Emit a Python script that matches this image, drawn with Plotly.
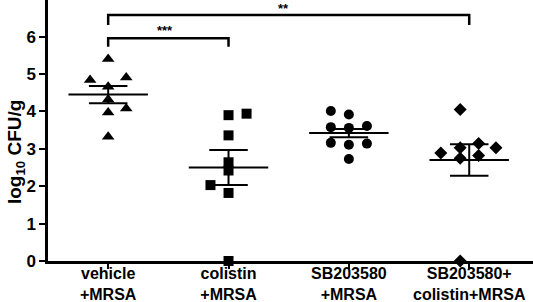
import plotly.graph_objects as go

categories = ["vehicle<br>+MRSA", "colistin<br>+MRSA", "SB203580<br>+MRSA", "SB203580+<br>colistin+MRSA"]

vehicle = [5.40, 4.84, 4.91, 4.66, 4.32, 4.08, 3.97, 3.32]
colistin = [3.90, 3.94, 3.36, 2.64, 2.42, 2.03, 1.82, 0.0]
sb203580 = [4.01, 3.92, 3.58, 3.56, 3.61, 3.16, 3.11, 3.14, 2.73]
combo = [4.05, 2.89, 3.03, 3.14, 3.03, 2.75, 2.82, 0.0]

# horizontal scatter of the points within each group (category units)
vehicle_dx = [0, -0.15, 0.15, 0, 0, 0.15, 0, 0]
colistin_dx = [0, 0.15, 0, 0, 0, -0.15, 0, 0]
sb203580_dx = [-0.15, 0, -0.15, 0, 0.15, -0.15, 0, 0.15, 0]
combo_dx = [-0.075, -0.236, -0.075, 0.078, 0.222, -0.075, 0.078, -0.075]

means = [4.45, 2.50, 3.42, 2.70]
sems = [0.23, 0.47, 0.11, 0.42]

symbols = ["triangle-up", "square", "circle", "diamond"]
groups = [vehicle, colistin, sb203580, combo]
offsets = [vehicle_dx, colistin_dx, sb203580_dx, combo_dx]
sizes = [11, 10, 10, 10]

fig = go.Figure()

MEAN_HW = 0.33
CAP_HW = 0.16
for i in range(4):
    fig.add_trace(go.Scatter(x=[i - MEAN_HW, i + MEAN_HW], y=[means[i], means[i]], mode="lines",
                             line=dict(color="black", width=2), showlegend=False, hoverinfo="skip"))
    lo, hi = means[i] - sems[i], means[i] + sems[i]
    fig.add_trace(go.Scatter(
        x=[i, i, None, i - CAP_HW, i + CAP_HW, None, i - CAP_HW, i + CAP_HW],
        y=[lo, hi, None, hi, hi, None, lo, lo], mode="lines",
        line=dict(color="black", width=2), showlegend=False, hoverinfo="skip"))
    fig.add_trace(go.Scatter(
        x=[i + d for d in offsets[i]], y=groups[i], mode="markers",
        marker=dict(symbol=symbols[i], size=sizes[i], color="black"),
        cliponaxis=False, showlegend=False))

brackets = [(0, 1, 5.96, 5.73, "***", -3, 8), (0, 3, 6.58, 6.31, "**", -5, 6)]
for a, b, top, leg, label, xs, ys in brackets:
    fig.add_trace(go.Scatter(x=[a, a, b, b], y=[leg, top, top, leg], mode="lines",
                             line=dict(color="black", width=2.5), cliponaxis=False,
                             showlegend=False, hoverinfo="skip"))
    fig.add_annotation(x=(a + b) / 2, y=top, text=label, showarrow=False,
                       yanchor="middle", yshift=ys, xshift=xs,
                       font=dict(size=13, color="black", weight="bold"))

fig.add_annotation(xref="paper", yref="paper", x=-0.066, y=0.421,
                   text="log<sub>10</sub> CFU/g", textangle=-90, showarrow=False,
                   xanchor="center", yanchor="middle",
                   font=dict(size=19, color="black", weight="bold"))

fig.update_layout(
    width=533, height=302,
    margin=dict(l=48, r=0, t=0, b=41, autoexpand=False),
    paper_bgcolor="white", plot_bgcolor="white",
    font=dict(family="Liberation Sans, Arial, sans-serif", color="black"),
    xaxis=dict(range=[-0.5, 3.53], tickvals=[0, 1, 2, 3], ticktext=categories, automargin=False,
               showline=True, linecolor="black", linewidth=2.5, ticks="outside", ticklen=5,
               tickwidth=2, tickcolor="black", showgrid=False, zeroline=False,
               ticklabelstandoff=-9,
               tickfont=dict(size=16, color="black", weight="bold")),
    yaxis=dict(range=[0, 6.98], tickvals=[0, 1, 2, 3, 4, 5, 6], automargin=False, showline=True,
               linecolor="black", linewidth=2.5, ticks="outside", ticklen=6, tickwidth=2,
               tickcolor="black", showgrid=False, zeroline=False,
               tickfont=dict(size=17, color="black", weight="bold")),
)

fig.write_html("out.html", config={"displayModeBar": False},
               post_script="document.body.style.margin='0';")
